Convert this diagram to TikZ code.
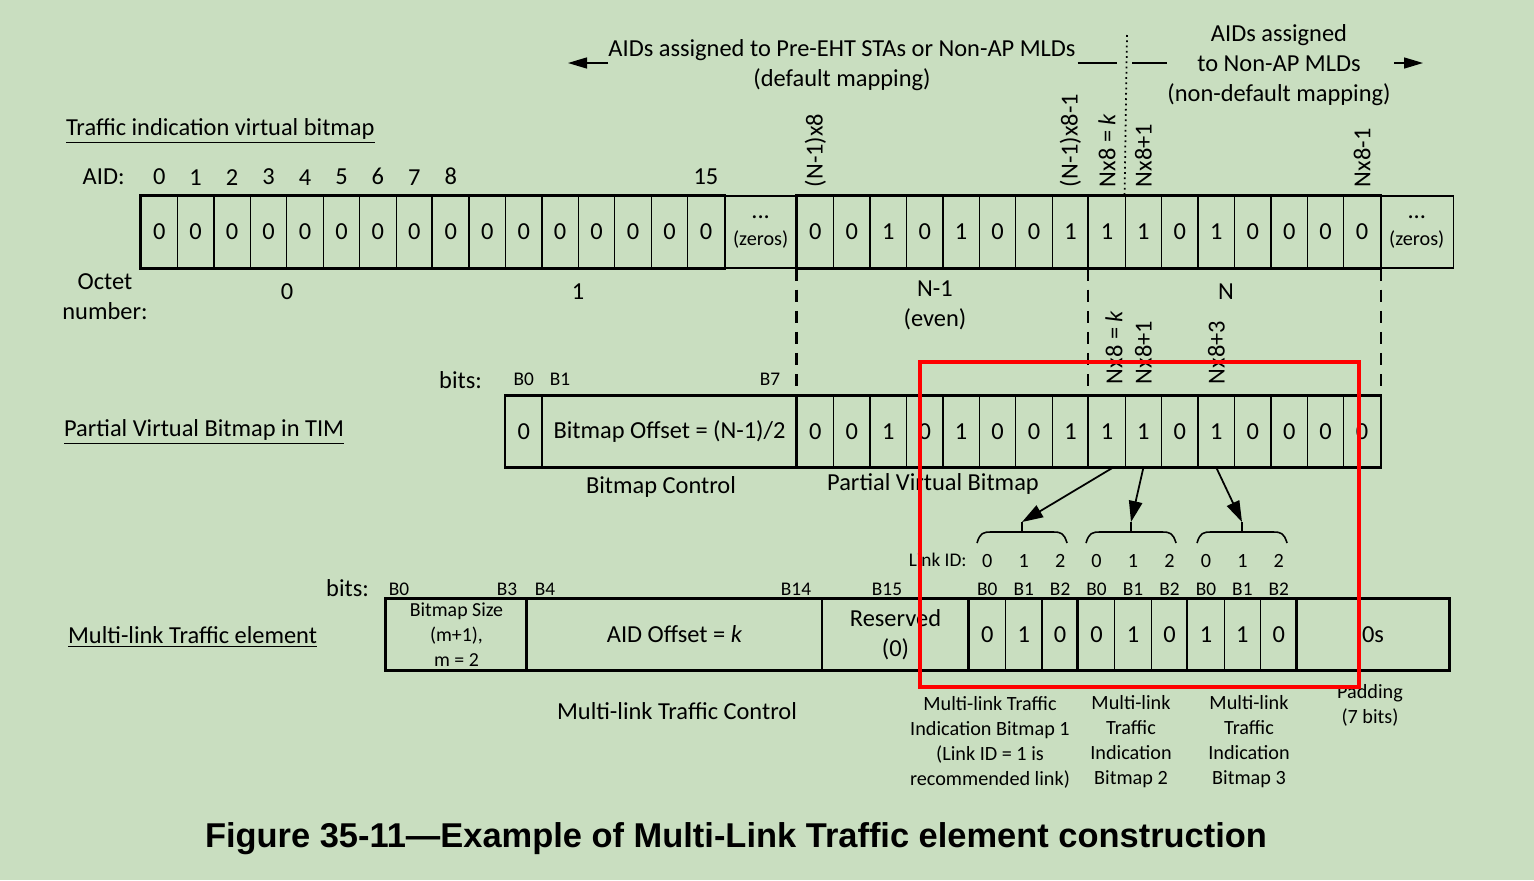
\documentclass[tikz,border=0pt]{standalone}
\usepackage{fontspec}
\setmainfont{Carlito}
\newfontfamily\capfont{Liberation Sans}
\usetikzlibrary{positioning,arrows.meta,calc}

\definecolor{bgc}{RGB}{201,222,192}
\newcommand\mainsz{\fontsize{13.9}{17}\selectfont}
\newcommand\smallsz{\fontsize{11}{13}\selectfont}
\newcommand\notesz{\fontsize{11.5}{14.2}\selectfont}
\newcommand\boxsz{\fontsize{11.3}{14.2}\selectfont}

\tikzset{
  cell/.style={draw,line width=0.7pt,minimum width=0.729cm,minimum height=1.42cm,inner sep=0pt,font=\mainsz},
  heavy/.style={line width=1.5pt},
  lbl/.style={inner sep=1pt,font=\mainsz},
  bitlbl/.style={inner sep=0pt,font=\smallsz},
  vlab/.style={rotate=90,anchor=west,inner sep=0pt,font=\mainsz},
  sep/.style={dash pattern=on 7pt off 5pt,line width=1.2pt},
  bigarrow/.style={-{Triangle[length=0.42cm,width=0.27cm]},line width=1pt},
  hdrarrow/.style={-{Triangle[length=0.38cm,width=0.22cm]},line width=0.8pt}
}

\begin{document}
\begin{tikzpicture}[x=0.02cm,y=-0.02cm]
\fill[bgc] (0,0) rectangle (1534,880);
\useasboundingbox (0,0) rectangle (1534,880);

% header
\node[lbl,inner sep=0pt] (hdl1) at (842,50) {AIDs assigned to Pre-EHT STAs or Non-AP MLDs};
\node[lbl,inner sep=0pt] (hdl2) at (842,80) {(default mapping)};
\node[lbl,inner sep=0pt,align=center] (hdr) at (1279,65) {AIDs assigned\\to Non-AP MLDs\\(non-default mapping)};
\coordinate (lend) at (568,63);
\coordinate (rend) at (1423,63);
\draw[hdrarrow] (hdl1.west |- lend) -- (lend);
\draw[line width=0.8pt] ([xshift=1pt]hdl1.east |- lend) -- (1117,63);
\draw[line width=0.8pt] (1132,63) -- (1167,63);
\draw[hdrarrow] ([xshift=2pt]hdr.east |- rend) -- (rend);

% traffic indication virtual bitmap
\node[lbl,anchor=west] (tivb) at (64,131) {\underline{Traffic indication virtual bitmap}};
\foreach \v [count=\i from 0] in {0,0,0,0,0,0,0,0,0,0,0,0,0,0,0,0}
  \node[cell,minimum height=1.44cm] (a\i) at ({141+(\i+0.5)*36.45},232) {\v};
\foreach \v [count=\i from 18] in {0,0,1,0,1,0,0,1,1,1,0,1,0,0,0,0}
  \node[cell,minimum height=1.44cm] (a\i) at ({141+(\i+0.5)*36.45},232) {\v};
\node[cell,minimum width=1.458cm,minimum height=1.44cm,align=center] (z1) at ({141+17*36.45},232) {...\\[-2pt]{\fontsize{11.5}{13}\selectfont (zeros)}};
\node[cell,minimum width=1.458cm,minimum height=1.44cm,align=center] (z2) at ({141+35*36.45},232) {...\\[-2pt]{\fontsize{11.5}{13}\selectfont (zeros)}};
\draw[heavy] (a0.north west) rectangle (a15.south east);
\draw[heavy] (a8.north west) -- (a8.south west);
\draw[heavy] (a18.north west) rectangle (a33.south east);
\draw[heavy] (a26.north west) -- (a26.south west);
\draw[dotted,line width=1pt] (1127,35) -- (a27.north west);

\foreach \i in {0,...,8}
  \node[lbl,inner sep=0pt,above=0.2cm of a\i] (n\i) {\i};
\node[lbl,inner sep=0pt,above=0.2cm of a15] (n15) {15};
\node[lbl,left=0.52cm of n0] (aidl) {AID:};

\node[vlab] (v1) at ([yshift=0.16cm]a18.north) {(N-1)x8};
\node[vlab] (v2) at ([yshift=0.16cm]a25.north) {(N-1)x8-1};
\node[vlab] (v3) at ([yshift=0.16cm]a26.north) {Nx8 = \textit{k}};
\node[vlab] (v4) at ([yshift=0.16cm]a27.north) {Nx8+1};
\node[vlab] (v5) at ([yshift=0.16cm]a33.north) {Nx8-1};

\node[lbl,align=center] (octl) at (105,297) {Octet\\number:};
\node[lbl] (o0) at (287,292) {0};
\node[lbl] (o1) at (578,292) {1};
\node[lbl,align=center] (o2) at (935,305) {N-1\\(even)};
\node[lbl] (o3) at (1226,292) {N};

% partial virtual bitmap
\node[lbl,anchor=west] (pvbt) at (62,432) {\underline{Partial Virtual Bitmap in TIM}};
\node[cell] (p10) at ({141+10.5*36.45},431.5) {0};
\node[cell,minimum width=5.103cm] (poff) at ({141+14.5*36.45},431.5) {Bitmap Offset = (N-1)/2};
\foreach \v [count=\i from 18] in {0,0,1,0,1,0,0,1,1,1,0,1,0,0,0,0}
  \node[cell] (p\i) at ({141+(\i+0.5)*36.45},431.5) {\v};
\draw[heavy] (p10.north west) rectangle (p33.south east);
\draw[heavy] (p18.north west) -- (p18.south west);
\draw[heavy] (p26.north west) -- (p26.south west);

\draw[sep] (a18.south west) -- (p18.north west);
\draw[sep] (a26.south west) -- (p26.north west);
\draw[sep] (a33.south east) -- (p33.north east);

\node[lbl,anchor=east] (bitsa) at (484,380) {bits:};
\node[bitlbl] (q0) at (p10 |- 0,379) {B0};
\node[bitlbl] (q1) at (560,379) {B1};
\node[bitlbl] (q7) at (770,379) {B7};
\node[vlab] (w1) at ([xshift=0.14cm,yshift=0.22cm]p26.north) {Nx8 = \textit{k}};
\node[vlab] (w2) at ([yshift=0.22cm]p27.north) {Nx8+1};
\node[vlab] (w3) at ([yshift=0.22cm]p29.north) {Nx8+3};

\node[lbl] (bctl) at (661,487) {Bitmap Control};
\node[lbl] (pvbl) at (933,484) {Partial Virtual Bitmap};

% multi-link traffic element
\node[lbl,anchor=west] (mlte) at (66,637) {\underline{Multi-link Traffic element}};
\node[cell,minimum width=2.82cm,align=center,font=\boxsz] (msz) at (456.5,634.5) {Bitmap Size\\(m+1),\\m = 2};
\node[cell,minimum width=5.9cm] (maid) at (674.5,634.5) {AID Offset = \textit{k}};
\node[cell,minimum width=2.94cm,align=center] (mres) at (895.5,634.5) {Reserved\\(0)};
\foreach \v [count=\i] in {0,1,0,0,1,0,1,1,0}
  \node[cell] (m\i) at ({969+(\i-0.5)*36.45},634.5) {\v};
\node[cell,minimum width=3.04cm] (mpad) at (1373,634.5) {0s};
\draw[heavy] (msz.north west) rectangle (mpad.south east);
\foreach \k in {maid,m1,m4,m7,mpad}
  \draw[heavy] (\k.north west) -- (\k.south west);

\node[lbl,anchor=east] (bitsb) at (371,588) {bits:};
\node[bitlbl] (r0) at (399,589) {B0};
\node[bitlbl] (r3) at (507,589) {B3};
\node[bitlbl] (r4) at (545,589) {B4};
\node[bitlbl] (r14) at (796,589) {B14};
\node[bitlbl] (r15) at (887,589) {B15};
\node[bitlbl,anchor=east] (lid) at (967,560) {Link ID:};
\foreach \i in {1,...,9} {
  \pgfmathtruncatemacro\d{mod(\i-1,3)}
  \node[bitlbl,font=\fontsize{11.5}{13}\selectfont] (d\i) at (m\i |- 0,561) {\d};
  \node[bitlbl] (b\i) at (m\i |- 0,589) {B\d};
}

% braces and arrows
\foreach \c [count=\j] in {1022,1131,1242} {
  \coordinate (br\j) at (\c,522);
  \draw[line width=0.9pt] (br\j) -- (\c,532);
  \draw[line width=0.9pt] ({\c-45},543) .. controls ({\c-42},533) and ({\c-39},532) .. ({\c-31},532)
    -- ({\c+31},532) .. controls ({\c+39},532) and ({\c+42},533) .. ({\c+45},543);
}
\draw[bigarrow] ([xshift=0.12cm]p26.south) -- (br1);
\draw[bigarrow] (p27.south) -- (br2);
\draw[bigarrow] (p29.south) -- (br3);

\node[lbl] (mtc) at (677,711) {Multi-link Traffic Control};
\node[lbl,align=center,font=\notesz] (tib1) at (990,742) {Multi-link Traffic\\Indication Bitmap 1\\(Link ID = 1 is\\recommended link)};
\node[lbl,align=center,font=\notesz] (tib2) at (1131,742) {Multi-link\\Traffic\\Indication\\Bitmap 2};
\node[lbl,align=center,font=\notesz] (tib3) at (1249,742) {Multi-link\\Traffic\\Indication\\Bitmap 3};
\node[lbl,align=center,font=\notesz] (padl) at (1370,705) {Padding\\(7 bits)};

\draw[red,line width=2.3pt] (920,362) rectangle (1359,687);

\node[font=\capfont\bfseries\fontsize{19.6}{22}\selectfont] (cap) at (736,839) {Figure 35-11—Example of Multi-Link Traffic element construction};
\end{tikzpicture}
\end{document}
